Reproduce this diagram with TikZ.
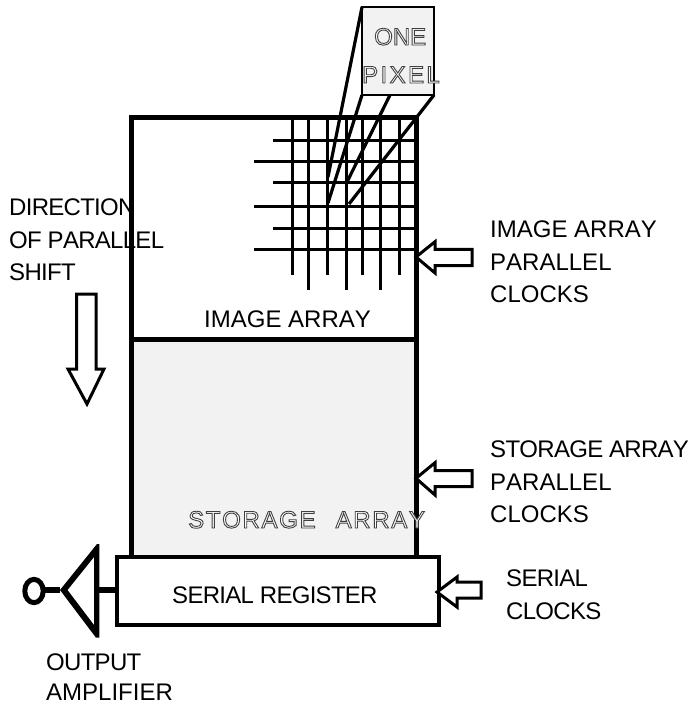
\documentclass[tikz,border=0pt]{standalone}
\usepackage{fontspec}
\usetikzlibrary{shapes.geometric}
\setmainfont[Kerning=Off]{Liberation Sans}
\newcommand{\lbl}{\fontsize{24}{32}\selectfont}
\newcommand{\outl}[1]{\special{pdf:code q 2 Tr 0.9 w 0.25 0.25 0.25 RG 1 1 1 rg}#1\special{pdf:code Q}}
\newcommand{\tight}{\addfontfeature{LetterSpace=-3}}
\definecolor{panel}{HTML}{F2F2F2}
\tikzset{
  lab/.style={anchor=base west,inner sep=0pt,font=\lbl,text=black},
  hollow/.style={draw=black,line width=3pt,fill=white,miter limit=10},
  gridline/.style={line width=3.2pt},
  zoomline/.style={line width=3.2pt},
  regbox/.style={draw=black,line width=4.5pt,fill=white,minimum width=322pt,minimum height=68pt,inner sep=0pt,outer sep=0pt},
  arraybox/.style={draw=black,line width=5pt,minimum width=285pt,inner sep=0pt,outer sep=0pt}
}
\begin{document}
\begin{tikzpicture}[x=1pt,y=-1pt]
\useasboundingbox (0,0) rectangle (693,704);
\fill[white] (0,0) rectangle (693,704);
% labels behind the array outline
\node[lab] (t1) at (9,215) {\tight DIRECTION};
\node[lab] (t2) at (9,248) {\tight OF PARALLEL};
\node[lab] (t3) at (9,280) {\tight SHIFT};
% arrays
\node[arraybox,minimum height=222pt] (image) at (273.5,228) {};
\node[arraybox,fill=panel,minimum height=218pt] (storage) at (273.5,448) {};
% grid
\foreach \x/\b in {292.3/275,308.3/290,327.3/275,346.3/290,362.3/275,380.3/290,399.3/275}
  \draw[gridline] (\x,117) -- (\x,\b);
\foreach \y/\l in {140.3/273,161.3/254,182.3/273,206.3/254,228.3/273,249.3/254}
  \draw[gridline] (\l,\y) -- (416,\y);
% pixel
\node[draw=black,line width=2.5pt,fill=panel,minimum width=72pt,minimum height=88pt,inner sep=0pt,outer sep=0pt] (pixel) at (398,51) {};
\coordinate (p1) at (328,177);
\coordinate (p2) at (328,203);
\coordinate (p3) at (347,182);
\coordinate (p4) at (349,204);
\coordinate (pb) at (390,95);
\draw[zoomline] (pixel.north west) -- (p1);
\draw[zoomline] (pixel.south west) -- (p2);
\draw[zoomline] (pb) -- (p3);
\draw[zoomline] (pixel.south east) -- (p4);
% serial register
\node[regbox] (serial) at (278,591) {};
% amplifier
\coordinate (apex) at (60,590);
\fill[black,even odd rule] (99.3,544) -- (99.3,637.7) -- (96,637.7) -- (apex) -- (97,544) -- cycle
  (94,557) -- (94,625) -- (67.5,590) -- cycle;
\draw[line width=5.5pt] (serial.west |- apex) -- (97,590);
\node[draw=black,line width=5pt,ellipse,inner sep=0pt,outer sep=0pt,minimum width=18.4pt,minimum height=23.3pt] (out) at (34,591) {};
\draw[line width=5.5pt] (out.east |- apex) -- (apex);
% hollow arrows
\draw[hollow] (472,249.3) -- (435,249.3) -- (435,241.7) -- (416,257) -- (435,273) -- (435,265.7) -- (472,265.7) -- cycle;
\draw[hollow] (472,470.7) -- (435,470.7) -- (435,462.7) -- (416,478.3) -- (435,495) -- (435,486.7) -- (472,486.7) -- cycle;
\draw[hollow] (481,582) -- (457,582) -- (457,577) -- (437,592) -- (457,607) -- (457,598) -- (481,598) -- cycle;
\draw[hollow] (76.5,294) -- (96,294) -- (96,369) -- (104,369) -- (87,404) -- (68,369) -- (76.5,369) -- cycle;
% labels
\node[lab] (t4) at (490,237) {IMAGE ARRAY};
\node[lab] (t5) at (490,270) {PARALLEL};
\node[lab] (t6) at (490,302) {CLOCKS};
\node[lab] (t7) at (490,457) {\tight STORAGE ARRAY};
\node[lab] (t8) at (490,490) {PARALLEL};
\node[lab] (t9) at (490,522) {CLOCKS};
\node[lab] (t10) at (506,586) {\tight SERIAL};
\node[lab] (t11) at (506,619) {\tight CLOCKS};
\node[lab] (t12) at (46,670) {\tight OUTPUT};
\node[lab] (t13) at (46,700) {AMPLIFIER};
\node[lab] (t14) at (204,327) {IMAGE ARRAY};
\node[lab] (t15) at (172,603) {\tight SERIAL REGISTER};
\node[lab] (t16) at (188,528) {\addfontfeature{LetterSpace=7}\outl{STORAGE\hspace{20pt}ARRAY}};
\node[lab] (t17) at (374,45) {\outl{ONE}};
\node[lab] (t18) at (362,83) {\addfontfeature{LetterSpace=10}\outl{PIXEL}};
\end{tikzpicture}
\end{document}
